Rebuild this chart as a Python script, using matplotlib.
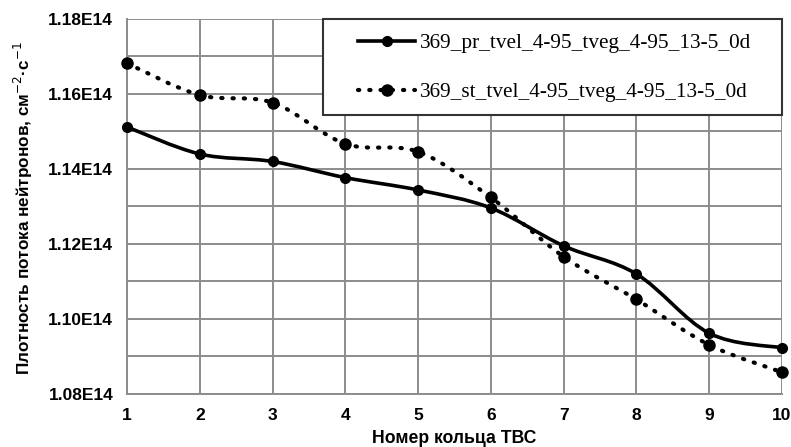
import numpy as np
import matplotlib.pyplot as plt
from matplotlib.path import Path
from matplotlib.patches import PathPatch, Rectangle
from matplotlib.lines import Line2D

# ring numbers and flux values (units of 1E14)
rings = [1, 2, 3, 4, 5, 6, 7, 8, 9, 10]
flux_pr = [1.1512, 1.1440, 1.1420, 1.1377, 1.1344, 1.1296, 1.1195, 1.1120, 1.0962, 1.0923]
flux_st = [1.1682, 1.1597, 1.1577, 1.1467, 1.1446, 1.1324, 1.1166, 1.1052, 1.0931, 1.0858]
names = ['369_pr_tvel_4-95_tveg_4-95_13-5_0d', '369_st_tvel_4-95_tveg_4-95_13-5_0d']
y_ticks = [1.08, 1.10, 1.12, 1.14, 1.16, 1.18]


def smooth_path(x, y):
    # cubic bezier through the points (Excel-like smoothed line)
    x = np.asarray(x, float)
    y = np.asarray(y, float)
    verts = [(x[0], y[0])]
    codes = [Path.MOVETO]
    n = len(x)
    for i in range(n - 1):
        p0 = np.array([x[max(i - 1, 0)], y[max(i - 1, 0)]])
        p1 = np.array([x[i], y[i]])
        p2 = np.array([x[i + 1], y[i + 1]])
        p3 = np.array([x[min(i + 2, n - 1)], y[min(i + 2, n - 1)]])
        c1 = p1 + (p2 - p0) / 6.0
        c2 = p2 - (p3 - p1) / 6.0
        verts += [tuple(c1), tuple(c2), tuple(p2)]
        codes += [Path.CURVE4] * 3
    return Path(verts, codes)


dots = (0, (0.3, 2.4))

fig = plt.figure(figsize=(7.91, 4.47), dpi=100)
ax = fig.add_axes([0.1606, 0.1186, 0.828, 0.8389])

ax.add_patch(PathPatch(smooth_path(rings, flux_pr), fill=False, lw=2.6,
                       color='black', capstyle='round', zorder=3))
ax.add_patch(PathPatch(smooth_path(rings, flux_st), fill=False, lw=3,
                       color='black', linestyle=dots,
                       capstyle='round', zorder=3))
ax.plot(rings, flux_pr, 'o', color='black', ms=7, zorder=4, clip_on=False)
ax.plot(rings, flux_st, 'o', color='black', ms=8, zorder=4, clip_on=False)

ax.set_xlim(1, 10)
ax.set_ylim(1.08, 1.18)
ax.set_xticks(rings)
ax.set_yticks(y_ticks)
ax.set_yticks(np.arange(1.09, 1.18, 0.02), minor=True)
ax.set_yticklabels(['%.2fE14' % v for v in y_ticks])
ax.grid(True, which='both', color='#8c8c8c', lw=1.4)
ax.set_axisbelow(True)
ax.tick_params(which='both', length=0)
ax.tick_params(axis='y', pad=10)
ax.tick_params(axis='x', pad=10)
for s in ['top', 'right']:
    ax.spines[s].set_visible(False)
for s in ['left', 'bottom']:
    ax.spines[s].set_color('#8c8c8c')
    ax.spines[s].set_linewidth(1.4)

for lab in ax.get_xticklabels() + ax.get_yticklabels():
    lab.set_fontfamily('Liberation Sans')
    lab.set_fontweight('bold')
    lab.set_fontsize(12.5)

ax.set_xlabel('Номер кольца ТВС', fontfamily='Liberation Sans', fontweight='bold',
              fontsize=12.7, labelpad=5)
ax.set_ylabel('Плотность потока нейтронов, см$^{-2}$·с$^{-1}$', fontfamily='Liberation Sans',
              fontweight='bold', fontsize=12.3, labelpad=5)
ax.yaxis.set_label_coords(-0.140, 0.495)

# legend box
ax.add_patch(Rectangle((0.2992, 0.744), 0.7008, 0.256, transform=ax.transAxes,
                       facecolor='white', edgecolor='#333333', lw=1.5,
                       zorder=5, clip_on=False))
handles = [Line2D([], [], color='black', lw=2.6, marker='o', ms=7),
           Line2D([], [], color='black', lw=3, marker='o', ms=8,
                  linestyle=dots, dash_capstyle='round')]
leg = ax.legend(handles, names, loc='center left', bbox_to_anchor=(0.3527, 0.870),
                borderaxespad=0, borderpad=0,
                prop={'family': 'Liberation Serif', 'size': 15.3},
                handlelength=2.7, handletextpad=0.2, labelspacing=1.38,
                frameon=False)
leg.set_zorder(6)

fig.savefig('out.png', dpi=100)
